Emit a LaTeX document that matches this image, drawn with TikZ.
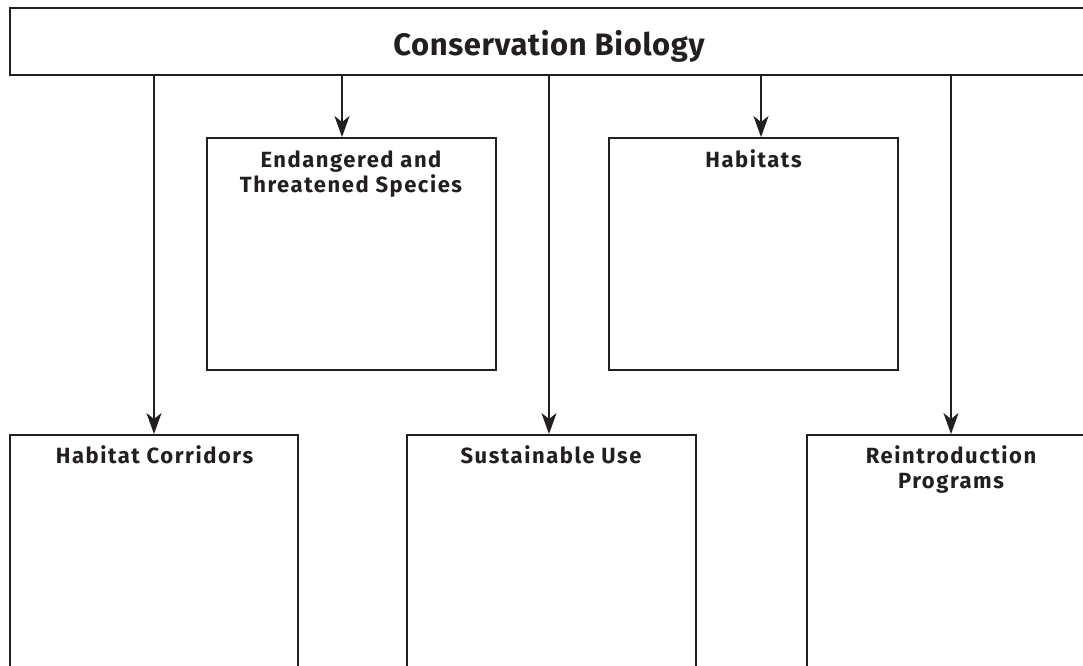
\documentclass[tikz,border=0pt]{standalone}
\usepackage{fontspec}
\setmainfont{Fira Sans}
\newfontfamily\lblfont[LetterSpace=7]{Fira Sans}
\newfontfamily\ttlfont[LetterSpace=2]{Fira Sans}
\usetikzlibrary{arrows.meta}
\definecolor{ink}{HTML}{231F20}
\begin{document}
\begin{tikzpicture}[x=1pt,y=-1pt,
  box/.style={draw=ink,line width=1.9pt,rectangle,inner sep=0pt,fill=none},
  lbl/.style={text=ink,font=\lblfont\bfseries\fontsize{22}{25}\selectfont,align=center,inner sep=0pt,anchor=base},
  arr/.style={draw=ink,line width=1.9pt,-{Stealth[length=21pt,width=15pt,inset=6pt]}}]
\clip (0,0) rectangle (1083,665);
\fill[white] (0,0) rectangle (1083,665);
% top box
\node[box,minimum width=1080pt,minimum height=67pt] (top) at (550,41.5) {};
\node[text=ink,font=\ttlfont\bfseries\fontsize{31}{36}\selectfont,inner sep=0pt,anchor=base] (title) at (549,55) {Conservation Biology};
% middle boxes
\node[box,minimum width=289pt,minimum height=232pt] (endan) at (351.5,254) {};
\node[box,minimum width=289pt,minimum height=232pt] (hab) at (753.5,254) {};
% bottom boxes
\node[box,minimum width=288pt,minimum height=300pt] (corr) at (154,585) {};
\node[box,minimum width=289pt,minimum height=300pt] (sust) at (551.5,585) {};
\node[box,minimum width=288pt,minimum height=300pt] (reint) at (951,585) {};
% labels (base anchor = baseline of last line)
\node[lbl] (tendan) at (351,192) {Endangered and\\Threatened Species};
\node[lbl] (thab) at (753.5,167) {Habitats};
\node[lbl] (tcorr) at (154.5,463) {Habitat Corridors};
\node[lbl] (tsust) at (551,463) {Sustainable Use};
\node[lbl] (treint) at (951,488) {Reintroduction\\Programs};
% arrows
\draw[arr] (top.south -| 154,0) -- (corr.north -| 154,0);
\draw[arr] (top.south -| 342,0) -- (endan.north -| 342,0);
\draw[arr] (top.south -| 549,0) -- (sust.north -| 549,0);
\draw[arr] (top.south -| 761,0) -- (hab.north -| 761,0);
\draw[arr] (top.south -| 951,0) -- (reint.north -| 951,0);
\end{tikzpicture}
\end{document}
